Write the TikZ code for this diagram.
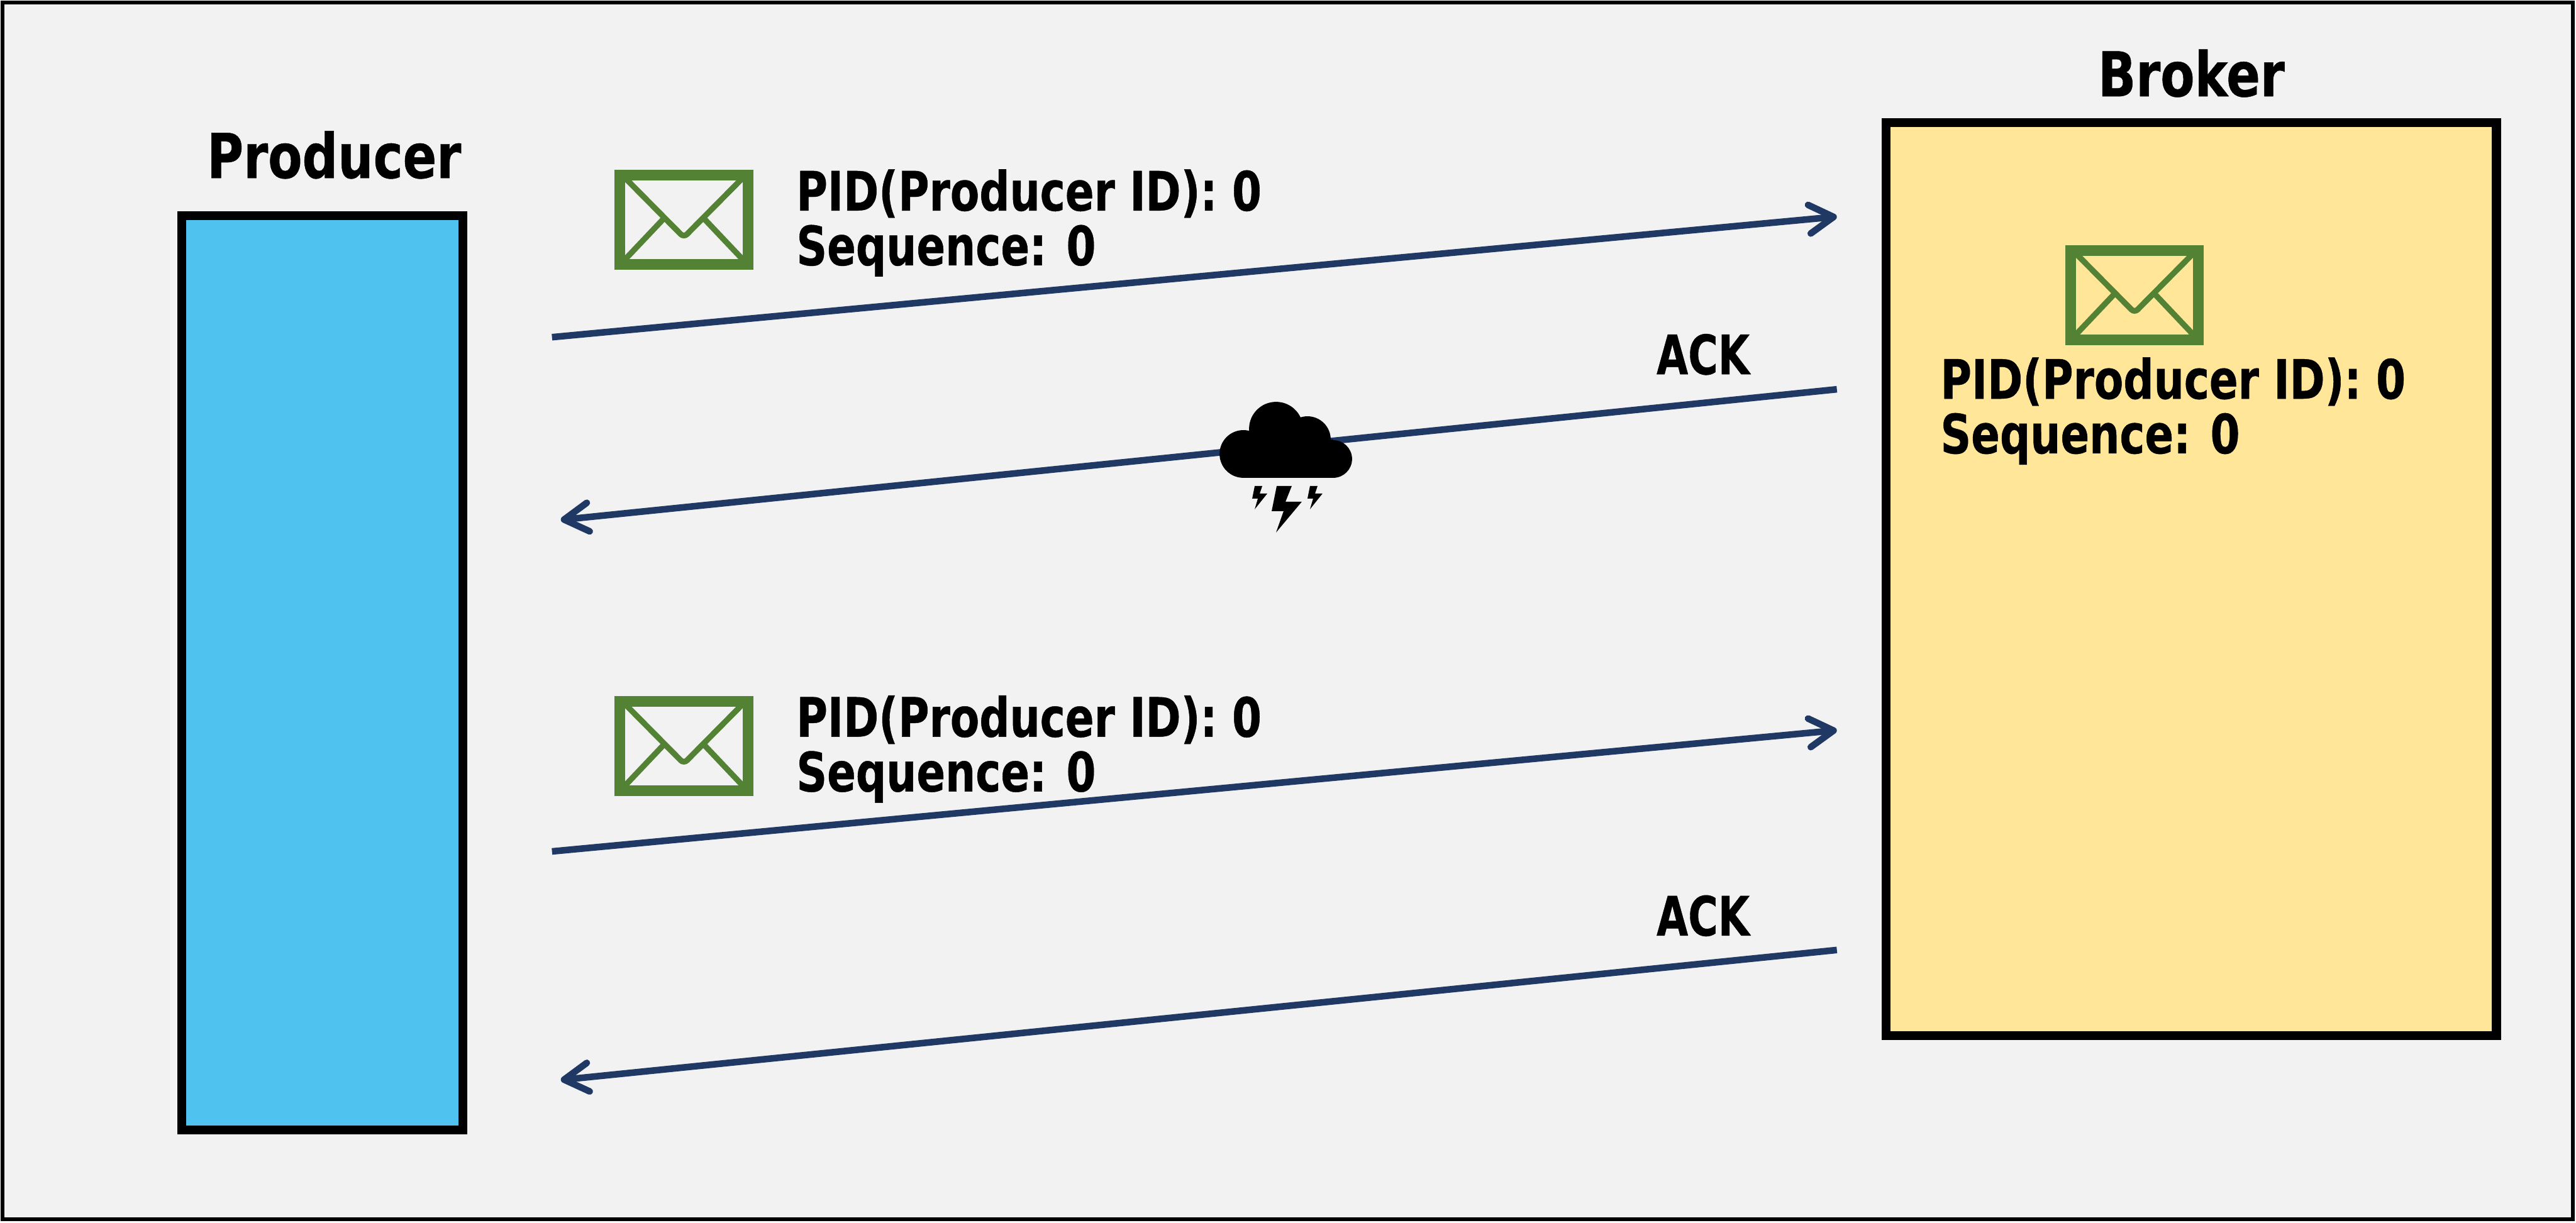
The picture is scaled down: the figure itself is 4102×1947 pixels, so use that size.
\documentclass[tikz,border=0pt]{standalone}
\usepackage{fontspec}
\usepackage{tikz}
\usetikzlibrary{arrows.meta,positioning}
\newfontfamily\labelfont[FakeStretch=0.782,FakeBold=0.5]{DejaVu Sans Bold}
\newfontfamily\acklabelfont[FakeStretch=0.75,FakeBold=0.5]{DejaVu Sans Bold}
\newfontfamily\titlefont[FakeStretch=0.805,FakeBold=0.5]{DejaVu Sans Bold}
\definecolor{pagegrey}{HTML}{F2F2F2}
\definecolor{producerblue}{HTML}{4FC2EF}
\definecolor{brokeryellow}{HTML}{FFE699}
\definecolor{envgreen}{HTML}{548235}
\definecolor{arrownavy}{HTML}{1F3864}

\begin{document}
\begin{tikzpicture}[x=0.01cm,y=-0.01cm,node distance=0.35cm and 0.7cm]
  \tikzstyle{hostbox}=[draw,line width=4pt,inner sep=0pt,outer sep=0.5\pgflinewidth]
  \tikzstyle{hosttitle}=[inner sep=0pt,font=\titlefont\fontsize{28}{30}\selectfont]
  \tikzstyle{msgtext}=[inner sep=0pt,align=left,font=\labelfont\fontsize{24.6}{24.75}\selectfont]
  \tikzstyle{acktext}=[inner sep=0pt,anchor=base,font=\acklabelfont\fontsize{24.6}{24.75}\selectfont]
  \tikzstyle{link}=[arrownavy,line width=3pt,-{Straight Barb[length=11pt,width=13pt,round]}]
  \tikzstyle{envelope}=[draw=envgreen,line width=4.84pt,inner sep=0pt,minimum width=2.04cm,minimum height=1.42cm,
    path picture={
      \begin{scope}[shift={(path picture bounding box.center)},envgreen,line width=2.6pt]
        \draw[rounded corners=2pt] (-100,-73) -- (0,28) -- (100,-73);
        \draw (-102,72) -- (-31,-3);
        \draw (102,72) -- (31,-3);
      \end{scope}}]
  \useasboundingbox (0,0) rectangle (4102,1947);
  \draw[fill=pagegrey,line width=1.6pt] (4,4) rectangle (4097,1942);

  \node[hostbox,fill=producerblue,minimum width=4.47cm,minimum height=14.55cm] (producer) at (513.5,1071.5) {};
  \node[hostbox,fill=brokeryellow,minimum width=9.71cm,minimum height=14.53cm] (broker) at (3489.5,922.5) {};
  \node[hosttitle,above=0.51cm of producer,xshift=0.185cm] (producertitle) {Producer};
  \node[hosttitle,above=0.33cm of broker,xshift=0cm] (brokertitle) {Broker};

  \node[envelope] (msgone) at (1089,350) {};
  \node[envelope] (msgtwo) at (1089,1188) {};
  \node[envelope] (msgstored) at (3399,470) {};
  \node[msgtext,right=0.68cm of msgone,yshift=-0.05cm] (textone) {PID(Producer ID): 0\\Sequence: 0};
  \node[msgtext,right=0.68cm of msgtwo,yshift=-0.05cm] (texttwo) {PID(Producer ID): 0\\Sequence: 0};
  \node[msgtext,below right=0.19cm and -1.99cm of msgstored.south west] (textstored) {PID(Producer ID): 0\\Sequence: 0};

  \node[acktext] (ackone) at (2712,596) {ACK};
  \node[acktext] (acktwo) at (2712,1490) {ACK};

  \coordinate (sendone) at (879,537);
  \coordinate (recvone) at (2925,345);
  \coordinate (ackonestart) at (2925,620);
  \coordinate (ackoneend) at (893,828);
  \coordinate (sendtwo) at (879,1356);
  \coordinate (recvtwo) at (2925,1163);
  \coordinate (acktwostart) at (2925,1513);
  \coordinate (acktwoend) at (893,1720);
  \draw[link] (sendone) -- (recvone);
  \draw[link] (ackonestart) -- (ackoneend);
  \draw[link] (sendtwo) -- (recvtwo);
  \draw[link] (acktwostart) -- (acktwoend);

  % storm on the first ack
  \fill (1980,723) circle[radius=38];
  \fill (2032,683) circle[radius=43];
  \fill (2082,700) circle[radius=37];
  \fill (2123,731) circle[radius=30];
  \fill (1980,700) rectangle (2123,761);
  \fill (2033,774) -- (2057,774) -- (2047,799) -- (2073,799) -- (2032,848) -- (2044,814) -- (2025,814) -- cycle;
  \fill (1998,774) -- (2010,774) -- (2006,786) -- (2018,786) -- (1998,811) -- (2003,794) -- (1994,794) -- cycle;
  \fill (2086,774) -- (2098,774) -- (2094,786) -- (2106,786) -- (2086,811) -- (2091,794) -- (2082,794) -- cycle;
\end{tikzpicture}
\end{document}
